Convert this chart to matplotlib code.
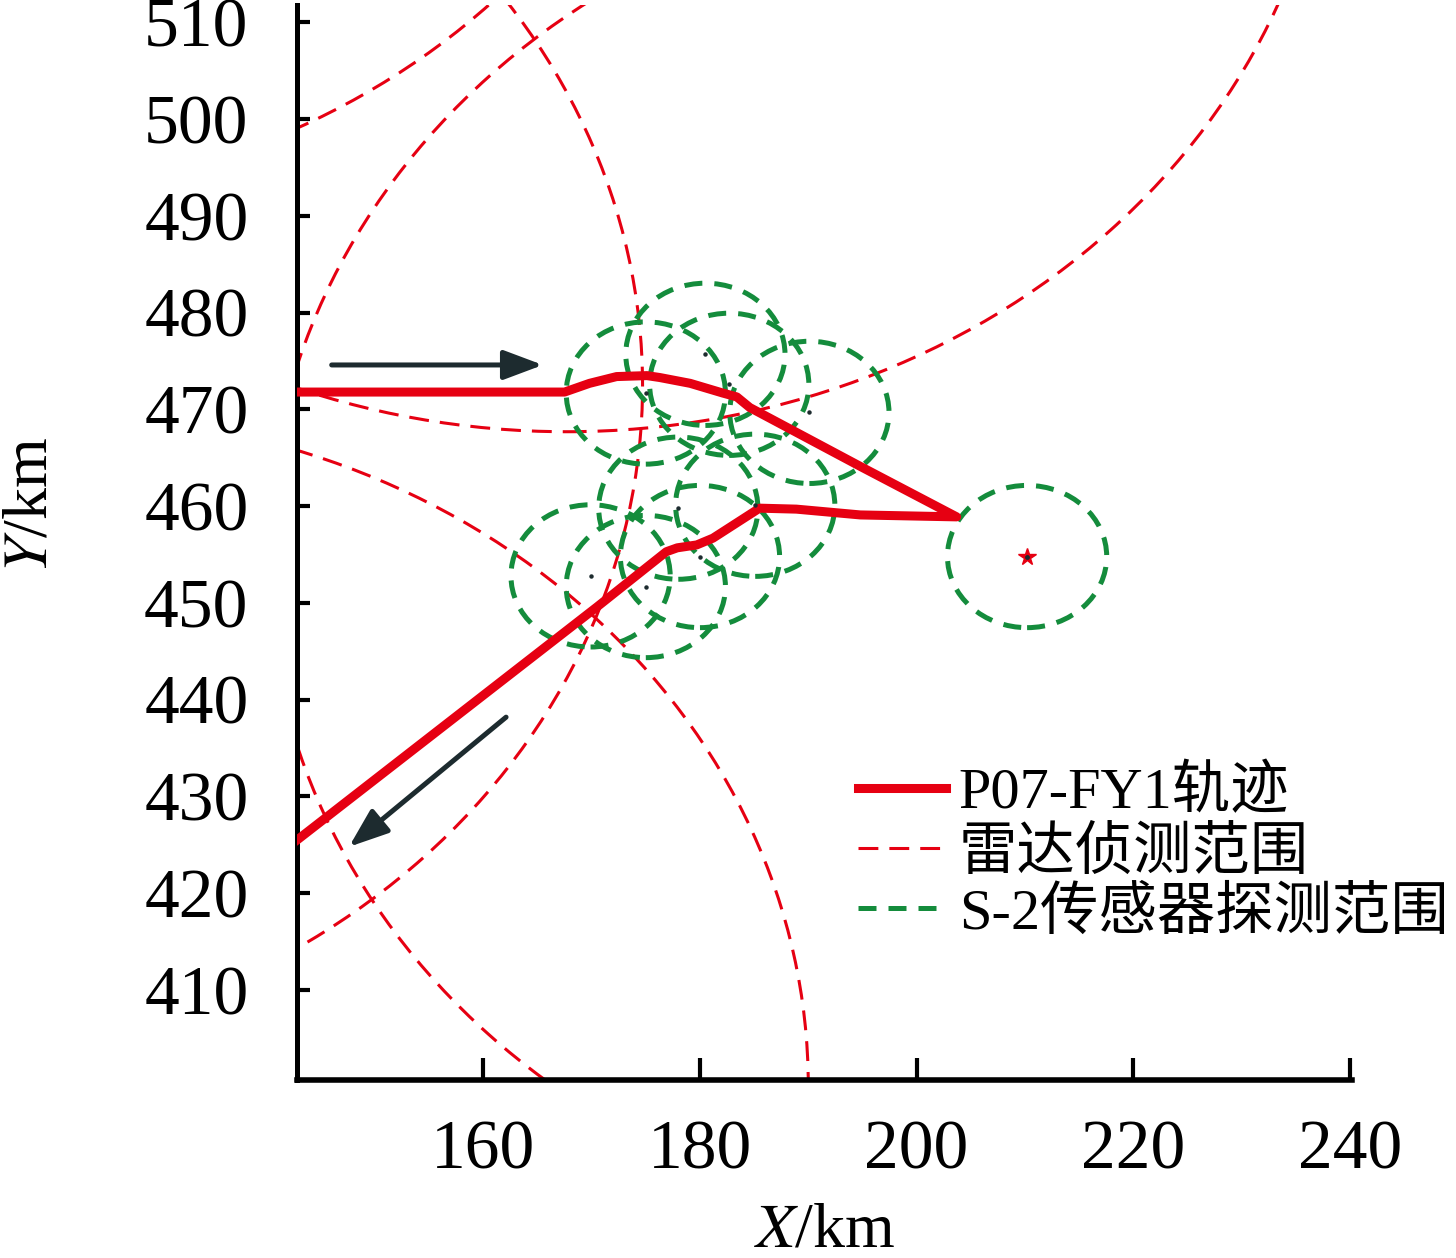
import matplotlib
matplotlib.use("Agg")
import matplotlib.pyplot as plt
from matplotlib.patches import Circle
from matplotlib.lines import Line2D

plt.rcParams["font.family"] = ["Liberation Serif", "Noto Sans CJK SC"]
plt.rcParams["mathtext.fontset"] = "stix"

RED = "#e60012"
GREEN = "#148c3c"
DARK = "#1d2b2f"

# P07-FY1 track (km)
track_x = [142.0, 167.5, 169.8, 172.3, 175.1, 176.3, 179.1, 182.1, 183.4, 184.6, 195.0, 203.7,
           194.8, 188.9, 185.5, 181.2, 179.7, 177.9, 176.9, 175.1, 170.5, 142.0]
track_y = [471.8, 471.8, 472.7, 473.4, 473.5, 473.3, 472.7, 471.7, 471.3, 470.2, 464.0, 458.9,
           459.1, 459.7, 459.8, 456.7, 456.0, 455.7, 455.3, 453.7, 449.6, 424.8]

# radar detection ranges
radar_x = [111.7, 105.7, 167.7, 120.7, 210.0]
radar_y = [561.0, 472.5, 538.6, 400.1, 454.9]
radar_r = [69.3, 69.0, 70.9, 69.3, 70.0]

# S-2 sensors
sensor_x = [180.5, 182.7, 175.0, 190.1, 178.0, 185.1, 180.0, 169.9, 175.0, 210.2]
sensor_y = [475.7, 472.6, 471.7, 469.7, 459.8, 460.1, 454.8, 452.8, 451.7, 454.8]
sensor_r = 7.35

radar_site = (210.2, 454.8)

# direction arrows (start, end)
arrows = [((146.0, 474.6), (165.5, 474.6)),
          ((162.1, 438.2), (147.6, 424.8))]

labels = ["P07-FY1轨迹", "雷达侦测范围", "S-2传感器探测范围"]

fig = plt.figure(figsize=(14.56, 12.58), dpi=100)
ax = fig.add_axes([0.204, 0.1415, 0.7246, 0.8545])

radar_ls = (0, (6.5, 3.6))
sensor_ls = (0, (3.6, 2.4))

for cx, cy, r in zip(radar_x, radar_y, radar_r):
    ax.add_patch(Circle((cx, cy), r, fill=False, edgecolor=RED, lw=2.2, ls=radar_ls, zorder=2))

for cx, cy in zip(sensor_x, sensor_y):
    ax.add_patch(Circle((cx, cy), sensor_r, fill=False, edgecolor=GREEN, lw=3.6, ls=sensor_ls, zorder=3))

ax.plot(track_x, track_y, color=RED, lw=6.5, solid_joinstyle="round", zorder=4)

ax.plot(sensor_x, sensor_y, ls="none", marker="o", ms=2.2, color=DARK, zorder=6)
ax.plot([radar_site[0]], [radar_site[1]], ls="none", marker="*", ms=13, color=RED, zorder=5)
ax.plot([radar_site[0]], [radar_site[1]], ls="none", marker="o", ms=2.2, color=DARK, zorder=6)

for (x0, y0), (x1, y1) in arrows:
    ax.annotate("", xy=(x1, y1), xytext=(x0, y0),
                arrowprops=dict(arrowstyle="-|>,head_length=1.2,head_width=0.45",
                                color=DARK, lw=3.6, mutation_scale=20,
                                shrinkA=0, shrinkB=0), zorder=6)

ax.set_xlim(142.8, 240.2)
ax.set_ylim(400.7, 511.8)
ax.set_xticks([160, 180, 200, 220, 240])
ax.set_yticks(range(410, 511, 10))

for s in ["top", "right"]:
    ax.spines[s].set_visible(False)
ax.spines["left"].set_linewidth(3.6)
ax.spines["bottom"].set_linewidth(4)

ax.tick_params(axis="x", direction="in", length=16, width=3, pad=29, labelsize=50)
ax.tick_params(axis="y", direction="in", length=9, width=3, pad=35, labelsize=50)

ax.set_xlabel("$\\mathit{X}$/km", fontsize=46, va="top")
ax.xaxis.set_label_coords(0.5, -0.114)
ax.set_ylabel("$\\mathit{Y}$/km", fontsize=46, va="center")
ax.yaxis.set_label_coords(-0.252, 0.535)

handles = [Line2D([], [], color=RED, lw=6.5),
           Line2D([], [], color=RED, lw=2.2, ls=radar_ls),
           Line2D([], [], color=GREEN, lw=3.6, ls=sensor_ls)]
ax.legend(handles, labels, loc="upper left", bbox_to_anchor=(0.532, 0.292),
          frameon=False, fontsize=42, handlelength=1.5, handletextpad=0.22,
          labelspacing=0.1, borderpad=0, borderaxespad=0)

fig.savefig("out.png", dpi=100)
